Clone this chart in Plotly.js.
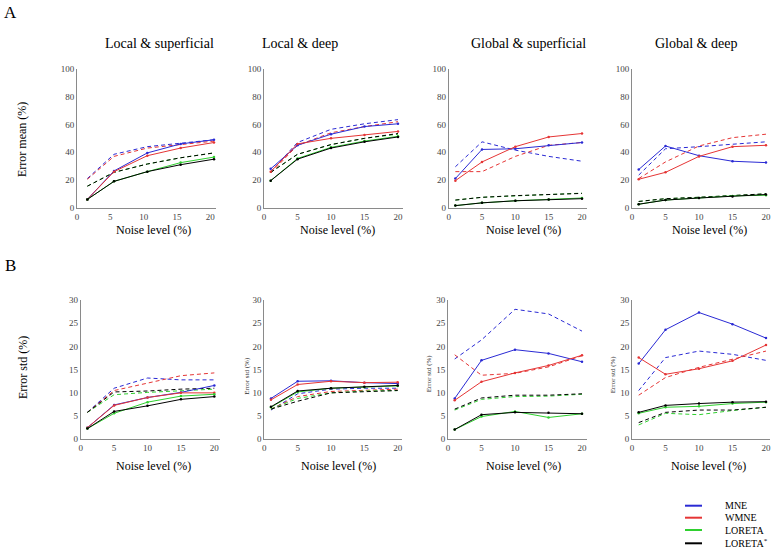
<!DOCTYPE html>
<html><head><meta charset="utf-8">
<script src="https://cdn.plot.ly/plotly-3.0.1.min.js"></script>
<style>html,body{margin:0;padding:0;background:#fff}#chart{width:774px;height:549px}</style>
</head><body><div id="chart"></div>
<script>
// ---------------- DATA ----------------
const noiseLevels = [1, 5, 10, 15, 20];
const methods = ['MNE', 'WMNE', 'LORETA', 'LORETA<sup>*</sup>'];
const panelTitles = ['Local & superficial', 'Local & deep', 'Global & superficial', 'Global & deep'];
const meanTicks = [0, 20, 40, 60, 80, 100];
const stdTicks = [0, 5, 10, 15, 20, 25, 30];
const noiseTicks = [0, 5, 10, 15, 20];

// rows: MNE, WMNE, LORETA, LORETA*
// Error mean (%)
const meanLocSupSolid = [[6, 26.5, 39.5, 46, 49], [6, 26, 37.5, 43, 47], [6, 19, 26, 32.5, 36.5], [6, 19, 26, 31, 35]];
const meanLocSupDash  = [[21, 38.5, 44, 46.5, 49], [20.5, 37, 43, 45.5, 48], [15.5, 25.5, 31.5, 36, 39.5], [15.5, 25.5, 31.5, 36, 39.5]];
const meanLocDeepSolid = [[28, 45, 53, 58.5, 60.5], [26, 46, 50, 52.5, 55], [19.5, 35.5, 43.5, 48, 51.5], [19.5, 35, 43, 47.5, 51]];
const meanLocDeepDash  = [[26, 47, 56.5, 60.5, 63.5], [25, 45, 54, 58.5, 62], [25.5, 38.5, 45.5, 50, 53], [25.5, 38.5, 45.5, 50, 53.5]];
const meanGloSupSolid = [[21, 42, 42.5, 45, 47], [19.5, 33, 44, 51, 53.5], [1.5, 3.5, 5, 6, 7], [1.5, 3.5, 5, 6, 6.5]];
const meanGloSupDash  = [[29.5, 47.5, 41.5, 37, 33.5], [26, 26, 37, 45, 47], [5.5, 7.5, 8.5, 9.5, 10.5], [5.5, 7.5, 8.7, 9.7, 10.3]];
const meanGloDeepSolid = [[27.5, 44.5, 37.5, 33.5, 32.5], [20.5, 25.5, 37, 44, 45], [2.5, 5.5, 7, 8.5, 9], [2.5, 5.5, 7, 8, 9.5]];
const meanGloDeepDash  = [[23.5, 42.5, 44, 45.5, 47.5], [21, 33, 44.5, 50.5, 53], [4.5, 6.5, 7.5, 9, 10], [4.5, 6.5, 7.5, 9, 10]];
// Error std (%)
const stdLocSupSolid = [[2.5, 7.4, 9, 10.1, 11.6], [2.5, 7.3, 9, 10, 10], [2.3, 5.6, 8, 9.3, 9.7], [2.3, 6, 7.2, 8.6, 9.2]];
const stdLocSupDash  = [[5.8, 11, 13.2, 12.8, 12.8], [5.8, 10.5, 12.1, 13.7, 14.3], [5.8, 9.6, 10.1, 10.4, 10.8], [5.8, 10.2, 10.4, 10.8, 11]];
const stdLocDeepSolid = [[8.8, 12.5, 12.6, 12.2, 12], [8.5, 11.8, 12.5, 12.2, 12.3], [6.9, 10.2, 11, 11.2, 11.5], [7, 10.4, 11, 11.3, 11.6]];
const stdLocDeepDash  = [[6.3, 9.8, 10.8, 11, 11], [6.5, 9.2, 10.3, 10.6, 10.8], [6.5, 8.8, 10, 10.4, 10.5], [6.5, 8.2, 10, 10.2, 10.5]];
const stdGloSupSolid = [[8.8, 17, 19.3, 18.5, 16.7], [8.4, 12.4, 14.3, 15.9, 18.1], [2.1, 4.9, 6, 4.7, 5.5], [2.1, 5.3, 5.8, 5.7, 5.5]];
const stdGloSupDash  = [[17.3, 21.4, 28, 27, 23.3], [18.2, 13.8, 14.2, 15.6, 18], [6.3, 8.6, 9.2, 9.3, 9.7], [6.5, 8.9, 9.5, 9.5, 9.8]];
const stdGloDeepSolid = [[16.3, 23.6, 27.3, 24.8, 21.8], [17.6, 14, 15.2, 16.9, 20.3], [5.6, 6.9, 7.1, 7.7, 8], [5.8, 7.3, 7.7, 8, 8.1]];
const stdGloDeepDash  = [[10.5, 17.6, 19, 18.3, 17], [9.5, 13.3, 15.5, 17.3, 19], [3.1, 5.6, 5.3, 6.2, 6.9], [3.6, 5.8, 6.3, 6.3, 6.9]];

// ---------------- STYLE / LAYOUT ----------------
const W = 774, H = 549;
const colors = ['#2a2ad4', '#e53535', '#2fd02f', '#000000'];
const serif = '"Liberation Serif", "Times New Roman", serif';
const px = v => v / W;
const py = v => 1 - v / H;

const panels = [
  {solid: meanLocSupSolid, dash: meanLocSupDash, x0: 77, x1: 216, xmin: -0.55, xmax: 20.3, row: 0, shift: -0.55},
  {solid: meanLocDeepSolid, dash: meanLocDeepDash, x0: 264, x1: 402.7, xmin: 0, xmax: 20.7, row: 0, shift: 0},
  {solid: meanGloSupSolid, dash: meanGloSupDash, x0: 448.7, x1: 586.7, xmin: 0, xmax: 20.7, row: 0, shift: 0},
  {solid: meanGloDeepSolid, dash: meanGloDeepDash, x0: 632, x1: 770, xmin: 0, xmax: 20.6, row: 0, shift: 0},
  {solid: stdLocSupSolid, dash: stdLocSupDash, x0: 80.7, x1: 220, xmin: 0, xmax: 20.85, row: 1, shift: 0},
  {solid: stdLocDeepSolid, dash: stdLocDeepDash, x0: 264.3, x1: 401.7, xmin: 0, xmax: 20.6, row: 1, shift: 0},
  {solid: stdGloSupSolid, dash: stdGloSupDash, x0: 448, x1: 586.7, xmin: 0, xmax: 20.7, row: 1, shift: 0},
  {solid: stdGloDeepSolid, dash: stdGloDeepDash, x0: 632, x1: 770, xmin: 0, xmax: 20.6, row: 1, shift: 0}
];
const rows = [
  {top: 69, bottom: 207.7, ticks: meanTicks, max: 100},
  {top: 300, bottom: 439.3, ticks: stdTicks, max: 30}
];

const traces = [];
const layout = {
  width: W, height: H,
  margin: {l: 0, r: 0, t: 0, b: 0},
  paper_bgcolor: '#fff', plot_bgcolor: 'rgba(0,0,0,0)',
  showlegend: false,
  font: {family: serif, color: '#000'},
  annotations: [], shapes: []
};

panels.forEach((p, i) => {
  const n = i === 0 ? '' : String(i + 1);
  const r = rows[p.row];
  ['dash', 'solid'].forEach(kind => {
    p[kind].forEach((vals, m) => {
      traces.push({
        x: noiseLevels, y: vals,
        xaxis: 'x' + n, yaxis: 'y' + n,
        type: 'scatter',
        mode: kind === 'solid' ? 'lines+markers' : 'lines',
        line: {color: colors[m], width: 1, dash: kind === 'solid' ? 'solid' : '4px,3px'},
        marker: {size: 2.5, color: colors[m]},
        hoverinfo: 'skip'
      });
    });
  });
  layout['xaxis' + n] = {
    domain: [px(p.x0), px(p.x1)], anchor: 'y' + n,
    range: [p.xmin, p.xmax],
    tickvals: noiseTicks.map(v => v + p.shift), ticktext: noiseTicks.map(String),
    showline: true, linecolor: '#8a8a8a', linewidth: 1,
    showgrid: false, zeroline: false, ticks: '',
    tickfont: {family: serif, size: 9, color: '#444'}
  };
  layout['yaxis' + n] = {
    domain: [py(r.bottom), py(r.top)], anchor: 'x' + n,
    range: [0, r.max],
    tickvals: r.ticks,
    showline: true, linecolor: '#8a8a8a', linewidth: 1,
    showgrid: false, zeroline: false, ticks: '',
    tickfont: {family: serif, size: 9, color: '#444'}
  };
});

function ann(text, x, y, size, opts) {
  layout.annotations.push(Object.assign({
    text: text, xref: 'paper', yref: 'paper', x: px(x), y: py(y),
    xanchor: 'center', yanchor: 'middle', showarrow: false,
    font: {family: serif, size: size, color: '#000'}
  }, opts || {}));
}

// panel letters
ann('A', 10, 12, 17);
ann('B', 10, 265, 17);
// column titles
[159.7, 300, 528, 696].forEach((x, k) => ann(panelTitles[k], x, 44, 14));
// x-axis titles
[153, 337.8, 523.7, 709].forEach(x => ann('Noise level (%)', x, 230, 12));
[153.5, 338.3, 523.8, 708.7].forEach(x => ann('Noise level (%)', x, 466, 12));
// y-axis titles
ann('Error mean (%)', 22, 140, 12, {textangle: -90});
ann('Error std (%)', 23, 368, 12, {textangle: -90});
[[246.7, 376], [429.3, 373], [613.3, 374]].forEach(([x, y]) =>
  ann('Error std (%)', x, y, 7, {textangle: -90, font: {family: serif, size: 7, color: '#333'}}));

// legend
const legendY = [505.7, 517.7, 530, 543.3];
methods.forEach((name, m) => {
  layout.shapes.push({type: 'line', xref: 'paper', yref: 'paper',
    x0: px(685), x1: px(702), y0: py(legendY[m]), y1: py(legendY[m]),
    line: {color: colors[m], width: 2}});
  ann(name, 722.7, legendY[m], 10, {xanchor: 'left'});
});

Plotly.newPlot('chart', traces, layout, {staticPlot: true, displayModeBar: false});
</script>
</body></html>
